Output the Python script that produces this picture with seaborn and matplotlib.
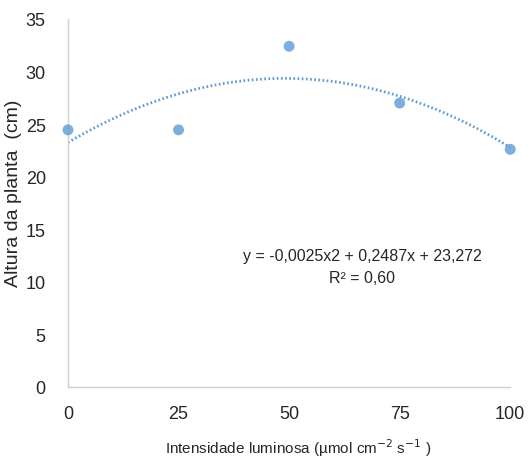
import matplotlib
matplotlib.use("Agg")
import matplotlib.pyplot as plt
import seaborn as sns
import pandas as pd
import numpy as np

intensidade = [0, 25, 50, 75, 100]
altura = [24.45, 24.45, 32.4, 27.0, 22.6]
yticks = [0, 5, 10, 15, 20, 25, 30, 35]
xticks = [0, 25, 50, 75, 100]
eq_text = "y = -0,0025x2 + 0,2487x + 23,272"
r2_text = "R² = 0,60"

sns.set_style("white")
plt.rcParams['font.family'] = ['Liberation Sans', 'DejaVu Sans']

df = pd.DataFrame({"x": intensidade, "y": altura})
color = "#5B9BD5"

fig = plt.figure(figsize=(5.29, 4.64), dpi=100)
ax = fig.add_axes([0.1285, 0.164, 0.836, 0.793])

sns.regplot(data=df, x="x", y="y", order=2, ci=None, ax=ax, truncate=True,
            scatter_kws=dict(s=62, color=color, edgecolor="none", zorder=3, clip_on=False),
            line_kws=dict(color=color, lw=2, linestyle=(0, (0.6, 0.9))))

ax.set_xlim(0, 100)
ax.set_ylim(0, 35)
ax.set_xticks(xticks)
ax.set_yticks(yticks)
ax.tick_params(axis='both', length=0, labelsize=13)
ax.tick_params(axis='x', pad=13)
ax.tick_params(axis='y', pad=16)
for s in ["top", "right"]:
    ax.spines[s].set_visible(False)
for s in ["left", "bottom"]:
    ax.spines[s].set_color("#d0d0d0")
    ax.spines[s].set_linewidth(1)

ax.set_xlabel("Intensidade luminosa (µmol cm$^{-2}$ s$^{-1}$ )", fontsize=11)
ax.xaxis.set_label_coords(0.52, -0.135)
ax.set_ylabel("Altura da planta  (cm)", fontsize=14)
ax.yaxis.set_label_coords(-0.103, 0.53)

ax.text(0.665, 0.358, eq_text, transform=ax.transAxes, ha="center", va="center", fontsize=11.5)
ax.text(0.665, 0.298, r2_text, transform=ax.transAxes, ha="center", va="center", fontsize=11.5)

fig.savefig("out.png", dpi=100)
